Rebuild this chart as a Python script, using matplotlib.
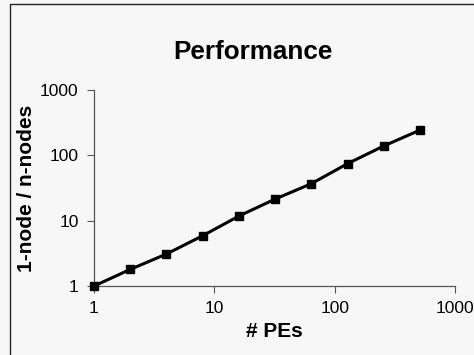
import matplotlib
matplotlib.use("Agg")
import matplotlib.pyplot as plt
import matplotlib.ticker as mticker
from matplotlib.patches import Rectangle

# speedup vs number of PEs
pes = [1, 2, 4, 8, 16, 32, 64, 128, 256, 512]
speedup = [1.0, 1.8, 3.1, 5.9, 11.8, 21.5, 37, 75, 140, 245]

xticks = [1, 10, 100, 1000]
yticks = [1, 10, 100, 1000]

BG = "#f7f7f7"

plt.rcParams.update({
    "font.family": ["Liberation Sans", "DejaVu Sans"],
    "font.size": 11,
})

fig = plt.figure(figsize=(4.74, 3.55), dpi=100, facecolor=BG)
ax = fig.add_axes([0.198, 0.194, 0.762, 0.552], facecolor=BG)

ax.plot(pes, speedup, "-s", color="black", lw=2.2, ms=5.5, clip_on=False, zorder=3)

ax.set_xscale("log")
ax.set_yscale("log")
ax.set_xlim(1, 1000)
ax.set_ylim(1, 1000)
ax.xaxis.set_major_locator(mticker.FixedLocator(xticks))
ax.yaxis.set_major_locator(mticker.FixedLocator(yticks))
ax.xaxis.set_minor_locator(mticker.NullLocator())
ax.yaxis.set_minor_locator(mticker.NullLocator())
ax.xaxis.set_major_formatter(mticker.FuncFormatter(lambda v, p: f"{v:g}"))
ax.yaxis.set_major_formatter(mticker.FuncFormatter(lambda v, p: f"{v:g}"))
ax.tick_params(direction="out", length=5, width=0.8, color="#555555",
               labelsize=12.5, pad=6)

for s in ("top", "right"):
    ax.spines[s].set_visible(False)
for s in ("left", "bottom"):
    ax.spines[s].set_color("#555555")
    ax.spines[s].set_linewidth(0.9)

ax.set_xlabel("# PEs", fontsize=15, fontweight="bold", labelpad=4)
ax.set_ylabel("1-node / n-nodes", fontsize=15, fontweight="bold", labelpad=3)
fig.text(0.534, 0.853, "Performance", ha="center", va="center",
         fontsize=18.8, fontweight="bold")

# scanned page frame
fig.patches.append(Rectangle((0.022, -0.1), 1.2, 1.089, transform=fig.transFigure,
                             fill=False, edgecolor="#222222", lw=1.0))

fig.savefig("out.png", dpi=100, facecolor=BG)
